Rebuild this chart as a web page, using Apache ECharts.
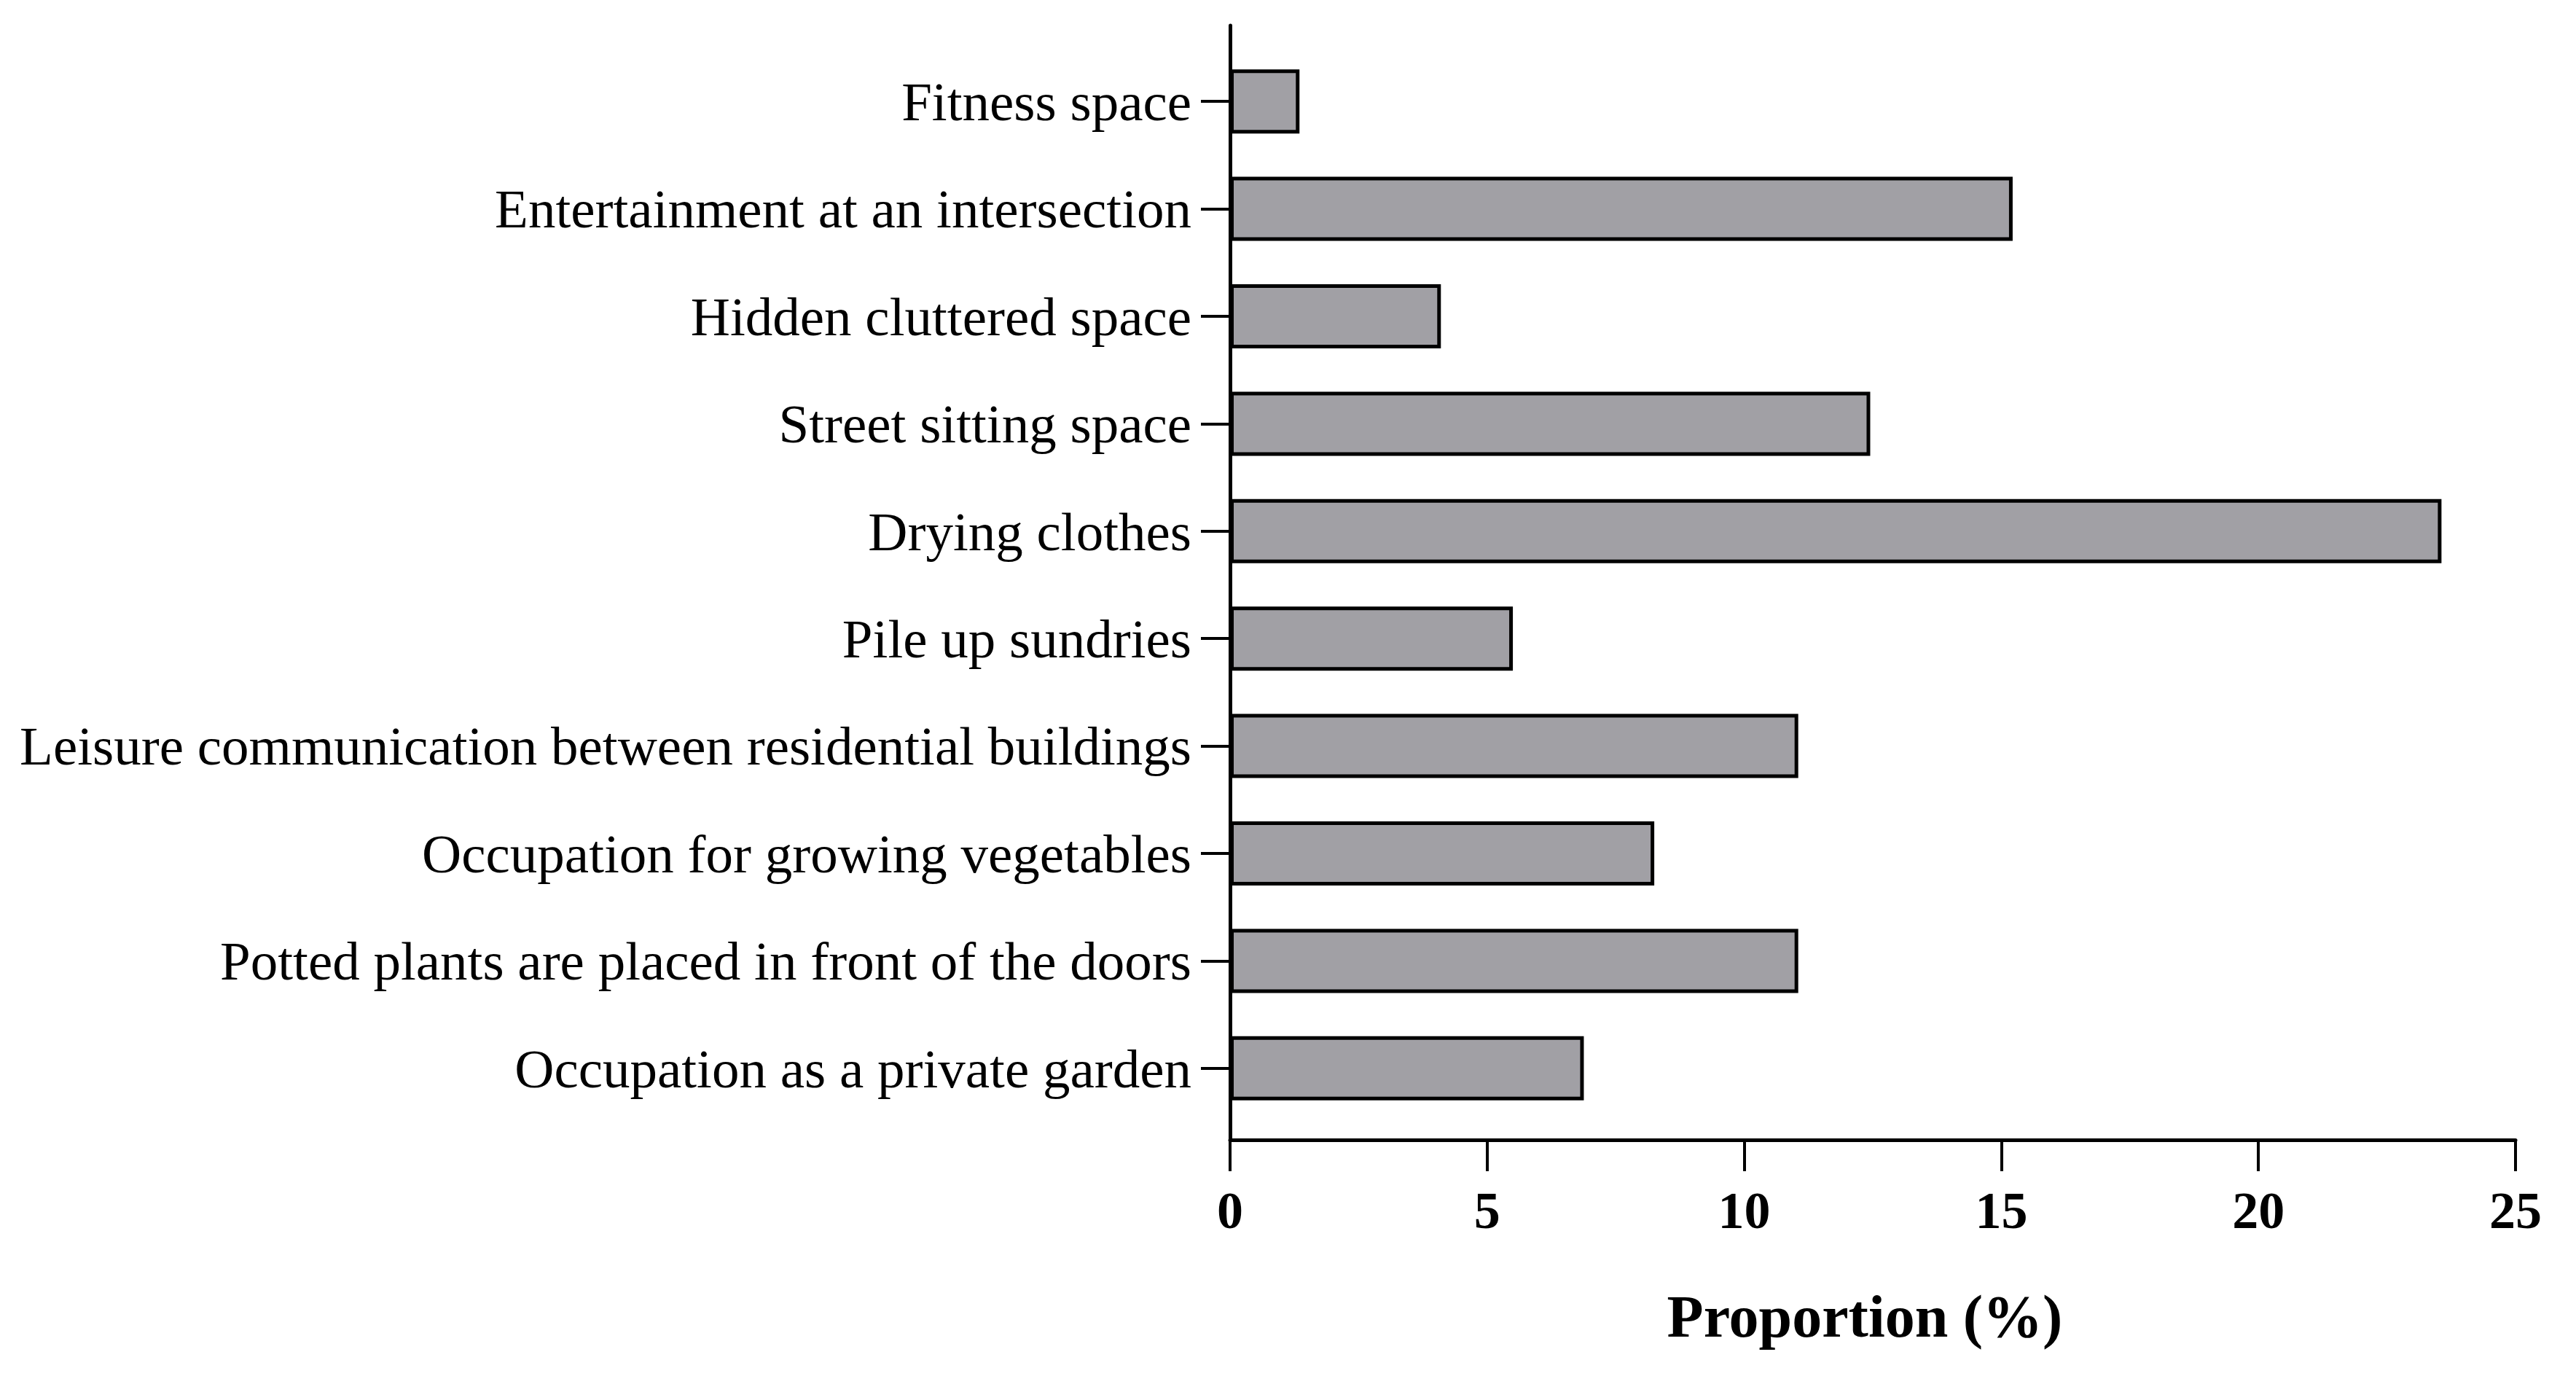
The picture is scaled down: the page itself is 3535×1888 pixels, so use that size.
<!DOCTYPE html>
<html>
<head>
<meta charset="utf-8">
<script src="https://cdn.jsdelivr.net/npm/echarts@6/dist/echarts.min.js"></script>
<style>
  html, body { margin: 0; padding: 0; background: #fff; }
  #chart { width: 3535px; height: 1888px; }
</style>
</head>
<body>
<div id="chart"></div>
<script>
  // categories top to bottom
  const categories = [
    'Fitness space',
    'Entertainment at an intersection',
    'Hidden cluttered space',
    'Street sitting space',
    'Drying clothes',
    'Pile up sundries',
    'Leisure communication between residential buildings',
    'Occupation for growing vegetables',
    'Potted plants are placed in front of the doors',
    'Occupation as a private garden'
  ];
  const proportion = [1.35, 15.22, 4.1, 12.45, 23.56, 5.5, 11.05, 8.25, 11.05, 6.88];
  const xTicks = [0, 5, 10, 15, 20, 25];

  const serif = '"Liberation Serif", "Times New Roman", serif';
  const plotLeft = 1688;
  const plotWidth = 1764;

  const chart = echarts.init(document.getElementById('chart'));

  chart.setOption({
    animation: false,
    backgroundColor: '#fff',
    grid: [
      // bars
      { left: plotLeft, width: plotWidth, top: 65.5, height: 1474, containLabel: false },
      // frame axes (slightly longer than the bar band)
      { left: plotLeft, width: plotWidth, top: 35, height: 1529, containLabel: false }
    ],
    xAxis: [
      {
        gridIndex: 0,
        type: 'value',
        min: xTicks[0],
        max: xTicks[xTicks.length - 1],
        show: false
      },
      {
        gridIndex: 1,
        type: 'value',
        min: xTicks[0],
        max: xTicks[xTicks.length - 1],
        interval: 5,
        name: 'Proportion (%)',
        nameLocation: 'middle',
        nameGap: 208,
        nameTextStyle: {
          fontFamily: serif, fontWeight: 'bold', fontSize: 82, color: '#000',
          padding: [0, 22, 0, 0]
        },
        axisLine: { show: true, lineStyle: { color: '#000', width: 5 } },
        axisTick: { show: true, inside: false, length: 43, lineStyle: { color: '#000', width: 4 } },
        axisLabel: { margin: 66, fontFamily: serif, fontWeight: 'bold', fontSize: 72, color: '#000' },
        splitLine: { show: false }
      }
    ],
    yAxis: [
      {
        gridIndex: 0,
        type: 'category',
        data: categories,
        inverse: true,
        axisLine: { show: false },
        axisTick: { show: true, alignWithLabel: true, length: 40, lineStyle: { color: '#000', width: 4 } },
        axisLabel: {
          margin: 53, fontFamily: serif, fontSize: 75, color: '#000',
          verticalAlign: 'top', lineHeight: 12
        },
        splitLine: { show: false }
      },
      {
        gridIndex: 1,
        type: 'value',
        min: 0,
        max: 1,
        axisLine: { show: true, lineStyle: { color: '#000', width: 5 } },
        axisTick: { show: false },
        axisLabel: { show: false },
        splitLine: { show: false }
      }
    ],
    series: [
      {
        type: 'bar',
        xAxisIndex: 0,
        yAxisIndex: 0,
        data: proportion,
        barWidth: 88,
        itemStyle: { color: '#a1a0a5', borderColor: '#000', borderWidth: 5 },
        z: 3
      }
    ]
  });
</script>
</body>
</html>
